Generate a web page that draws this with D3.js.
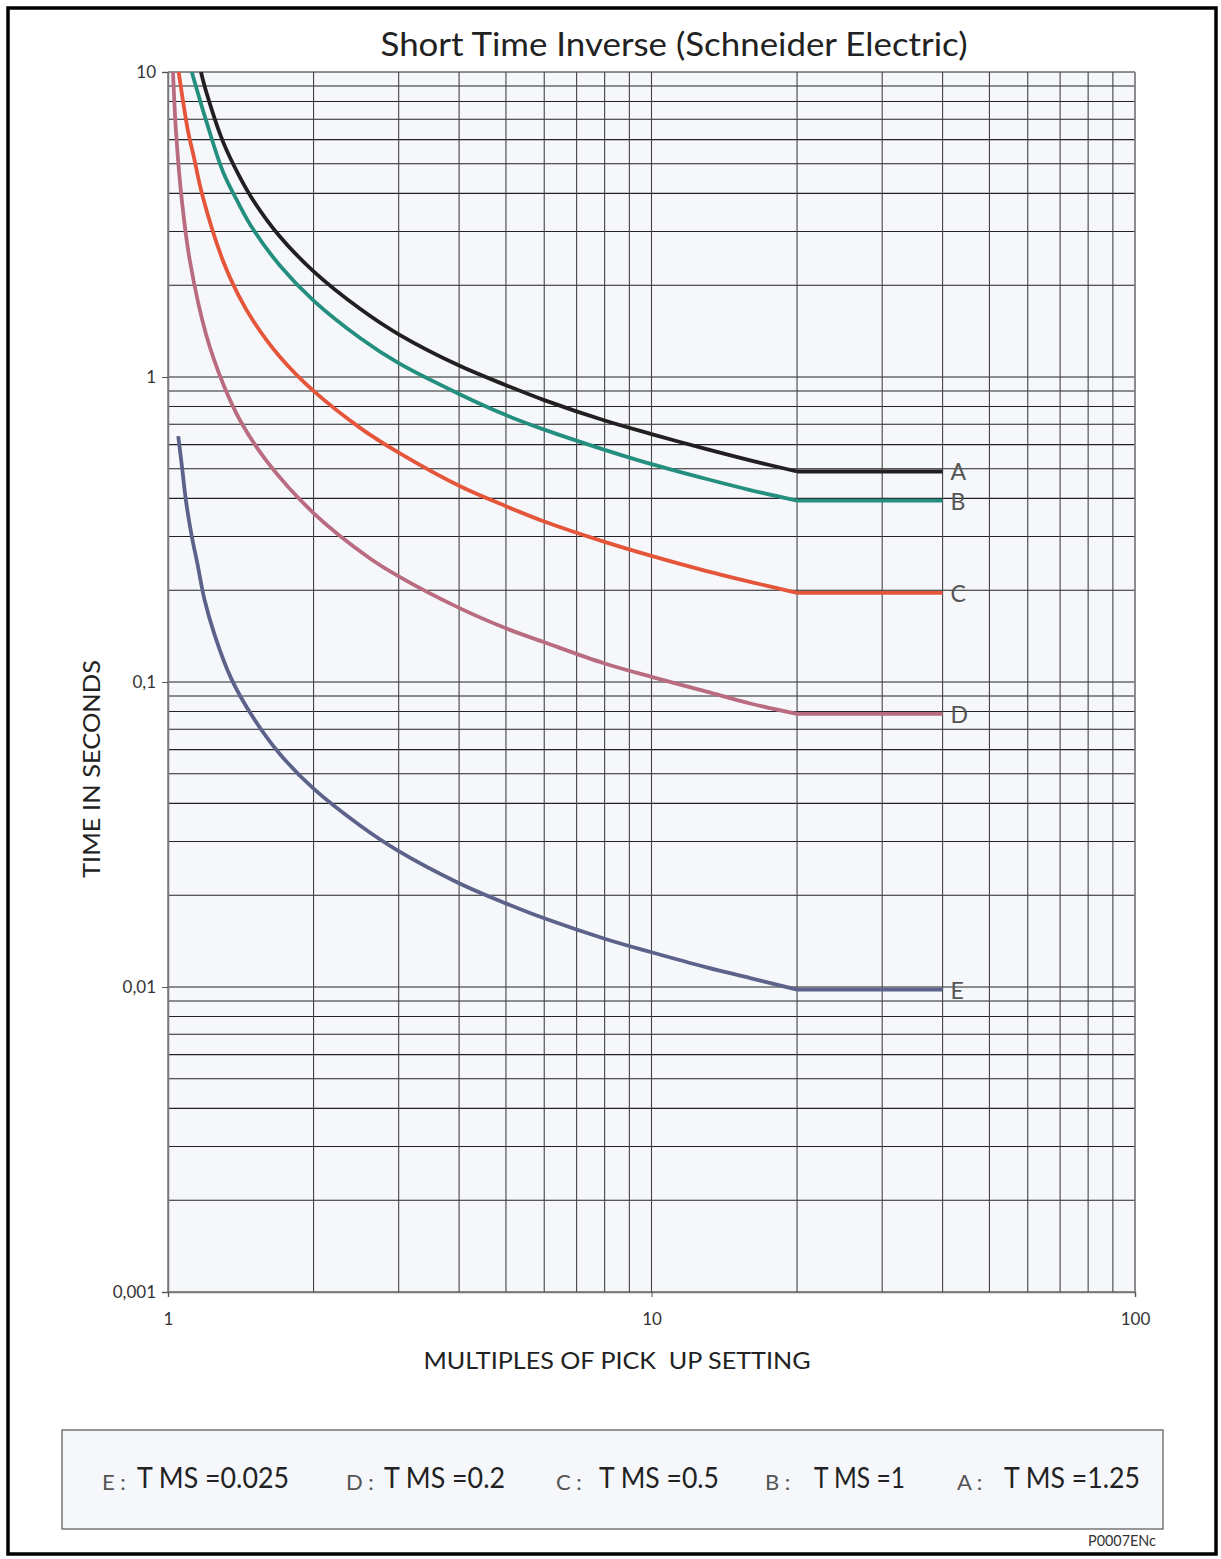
<!DOCTYPE html>
<html><head><meta charset="utf-8">
<script src="https://cdn.jsdelivr.net/npm/d3@7/dist/d3.min.js"></script>
<style>
body{margin:0;background:#fff;}
text{font-family:"Lato","DejaVu Sans",sans-serif;font-weight:400;}
</style></head>
<body><svg id="c" width="1221" height="1559"></svg>
<script>
// ---- data ----
const title = "Short Time Inverse (Schneider Electric)";
const xLabel = "MULTIPLES OF PICK  UP SETTING";
const yLabel = "TIME IN SECONDS";
const xTicks = [1, 10, 100];
const xTickLabels = ["1", "10", "100"];
const yTicks = [0.001, 0.01, 0.1, 1, 10];
const yTickLabels = ["0,001", "0,01", "0,1", "1", "10"];

const curveNames = ["A", "B", "C", "D", "E"];
const curveTMS = ["1.25", "1", "0.5", "0.2", "0.025"];
const curveColors = ["#231f20", "#258f7f", "#e4553a", "#b96b80", "#5d628a"];

const multA = [1.17, 1.2, 1.3, 1.4, 1.5, 1.7, 2, 2.5, 3, 4, 5, 6, 8, 10, 13, 16, 20, 40];
const timeA = [10, 8.6, 5.9, 4.6, 3.8, 2.9, 2.22, 1.67, 1.38, 1.09, 0.94, 0.84, 0.72, 0.65, 0.58, 0.533, 0.49, 0.49];

const multB = [1.12, 1.2, 1.3, 1.4, 1.5, 1.7, 2, 2.5, 3, 4, 5, 6, 8, 10, 13, 16, 20, 40];
const timeB = [10, 6.9, 4.7, 3.7, 3.05, 2.33, 1.78, 1.34, 1.11, 0.88, 0.75, 0.672, 0.577, 0.518, 0.463, 0.426, 0.393, 0.393];

const multC = [1.052, 1.1, 1.13, 1.18, 1.3, 1.4, 1.5, 1.7, 2, 2.5, 3, 4, 5, 6, 8, 10, 13, 16, 20, 40];
const timeC = [10, 6.4, 5.3, 3.9, 2.4, 1.85, 1.53, 1.17, 0.9, 0.68, 0.565, 0.44, 0.377, 0.336, 0.288, 0.259, 0.231, 0.213, 0.196, 0.196];

const multD = [1.024, 1.04, 1.07, 1.11, 1.2, 1.3, 1.41, 1.6, 2, 2.6, 3, 4, 5, 6, 8, 10, 13, 16, 20, 40];
const timeD = [10, 6.2, 3.7, 2.4, 1.37, 0.95, 0.72, 0.53, 0.358, 0.256, 0.222, 0.175, 0.15, 0.135, 0.115, 0.104, 0.093, 0.085, 0.0786, 0.0786];

const multE = [1.05, 1.07, 1.09, 1.12, 1.15, 1.19, 1.25, 1.35, 1.5, 1.7, 2, 2.5, 3, 4, 5, 6, 8, 10, 13, 16, 20, 40];
const timeE = [0.64, 0.5, 0.39, 0.3, 0.245, 0.186, 0.142, 0.103, 0.0765, 0.0583, 0.0447, 0.0338, 0.0279, 0.0219, 0.0188, 0.0168, 0.0144, 0.0130, 0.0116, 0.0107, 0.0098, 0.0098];

const curveMult = [multA, multB, multC, multD, multE];
const curveTime = [timeA, timeB, timeC, timeD, timeE];
const legendOrder = ["E", "D", "C", "B", "A"];
const footnote = "P0007ENc";

// ---- drawing ----
const svg = d3.select("#c");
const L = 168, R = 1135, T = 72, B = 1292;
const x = d3.scaleLog().domain([1, 100]).range([L, R]);
const y = d3.scaleLog().domain([0.001, 10]).range([B, T]);

// outer frame
svg.append("rect").attr("x", 8).attr("y", 8).attr("width", 1208).attr("height", 1546)
  .attr("fill", "none").attr("stroke", "#000").attr("stroke-width", 3.5);

// plot background
svg.append("rect").attr("x", L).attr("y", T).attr("width", R - L).attr("height", B - T)
  .attr("fill", "#f5f7fb");

// grid values
const xGrid = [];
for (let d = 1; d < 100; d *= 10) for (let k = 1; k < 10; k++) xGrid.push(d * k);
xGrid.push(100);
const yGrid = [];
for (let d = 0.001; d < 9; d *= 10) for (let k = 1; k < 10; k++) yGrid.push(+(d * k).toPrecision(3));
yGrid.push(10);

const g = svg.append("g");
g.selectAll("line.h").data(yGrid).join("line").attr("class", "h")
  .attr("x1", L).attr("x2", R).attr("y1", d => y(d)).attr("y2", d => y(d))
  .attr("stroke", "#222").attr("stroke-width", 1.1);
g.selectAll("line.v").data(xGrid).join("line").attr("class", "v")
  .attr("y1", T).attr("y2", B).attr("x1", d => x(d)).attr("x2", d => x(d))
  .attr("stroke", "#444").attr("stroke-width", 1.1);

// axes (lines + tick marks)
const yAxis = d3.axisLeft(y).tickValues(yTicks).tickFormat((d, i) => yTickLabels[i]).tickSize(6).tickPadding(6);
const ya = svg.append("g").attr("transform", `translate(${L},0)`).call(yAxis);
ya.select(".domain").attr("stroke", "#777").attr("stroke-width", 1.5);
ya.selectAll(".tick line").attr("stroke", "#555");
ya.selectAll(".tick text").attr("font-size", 17).attr("fill", "#333").attr("font-family", "Lato");

const xAxis = d3.axisBottom(x).tickValues(xTicks).tickFormat((d, i) => xTickLabels[i]).tickSize(5).tickPadding(16);
const xa = svg.append("g").attr("transform", `translate(0,${B})`).call(xAxis);
xa.select(".domain").attr("stroke", "#777").attr("stroke-width", 1.5);
xa.selectAll(".tick line").attr("stroke", "#555");
xa.selectAll(".tick text").attr("font-size", 17).attr("fill", "#333").attr("font-family", "Lato");

// right border of plot
svg.append("line").attr("x1", R).attr("x2", R).attr("y1", T).attr("y2", B).attr("stroke", "#888").attr("stroke-width", 1.5);

// curves: smooth part up to the knee, straight definite-time part after it
const smooth = d3.line().x(d => x(d[0])).y(d => y(d[1])).curve(d3.curveCatmullRom.alpha(0.5));
const straight = d3.line().x(d => x(d[0])).y(d => y(d[1]));
svg.append("clipPath").attr("id", "clip").append("rect")
  .attr("x", L).attr("y", T).attr("width", R - L).attr("height", B - T);
const cg = svg.append("g").attr("clip-path", "url(#clip)");
curveNames.forEach((n, i) => {
  const pts = curveMult[i].map((m, j) => [m, curveTime[i][j]]);
  const k = pts.length - 1;
  cg.append("path").datum(pts.slice(0, k)).attr("d", smooth)
    .attr("fill", "none").attr("stroke", curveColors[i]).attr("stroke-width", 3.8)
    .attr("stroke-linejoin", "round");
  cg.append("path").datum(pts.slice(k - 1)).attr("d", straight)
    .attr("fill", "none").attr("stroke", curveColors[i]).attr("stroke-width", 3.8);
  const last = pts[k];
  svg.append("text").attr("x", x(last[0]) + 8).attr("y", y(last[1]) + 9)
    .attr("font-size", 23).attr("fill", "#555").text(n);
});

// title and axis labels
svg.append("text").attr("x", 674).attr("y", 56).attr("text-anchor", "middle")
  .attr("font-size", 32).attr("fill", "#222").attr("textLength", 587).attr("lengthAdjust", "spacingAndGlyphs")
  .text(title);
svg.append("text").attr("x", 617).attr("y", 1369).attr("text-anchor", "middle")
  .style("white-space", "pre")
  .attr("font-size", 24).attr("fill", "#222").attr("textLength", 387).attr("lengthAdjust", "spacingAndGlyphs")
  .text(xLabel);
svg.append("text").attr("transform", "translate(100,769) rotate(-90)").attr("text-anchor", "middle")
  .attr("font-size", 24).attr("fill", "#222").attr("textLength", 218).attr("lengthAdjust", "spacingAndGlyphs")
  .text(yLabel);

// legend
svg.append("rect").attr("x", 62).attr("y", 1430).attr("width", 1101).attr("height", 99)
  .attr("fill", "#f5f7fb").attr("stroke", "#555").attr("stroke-width", 1.2);
const legPrefixX = [102, 346, 556, 765, 957];
const legMainX = [137, 384, 599, 814, 1004];
const legMainW = [152, 121, 120, 91, 136];
legendOrder.forEach((n, i) => {
  const idx = curveNames.indexOf(n);
  svg.append("text").attr("x", legPrefixX[i]).attr("y", 1490).attr("font-size", 22).attr("fill", "#555")
    .text(n + " :");
  svg.append("text").attr("x", legMainX[i]).attr("y", 1488).attr("font-size", 28).attr("fill", "#222")
    .attr("textLength", legMainW[i]).attr("lengthAdjust", "spacingAndGlyphs")
    .text("T MS =" + curveTMS[idx]);
});
svg.append("text").attr("x", 1156).attr("y", 1546).attr("text-anchor", "end").attr("font-size", 15)
  .attr("fill", "#333").attr("textLength", 68).attr("lengthAdjust", "spacingAndGlyphs").text(footnote);
</script></body></html>
